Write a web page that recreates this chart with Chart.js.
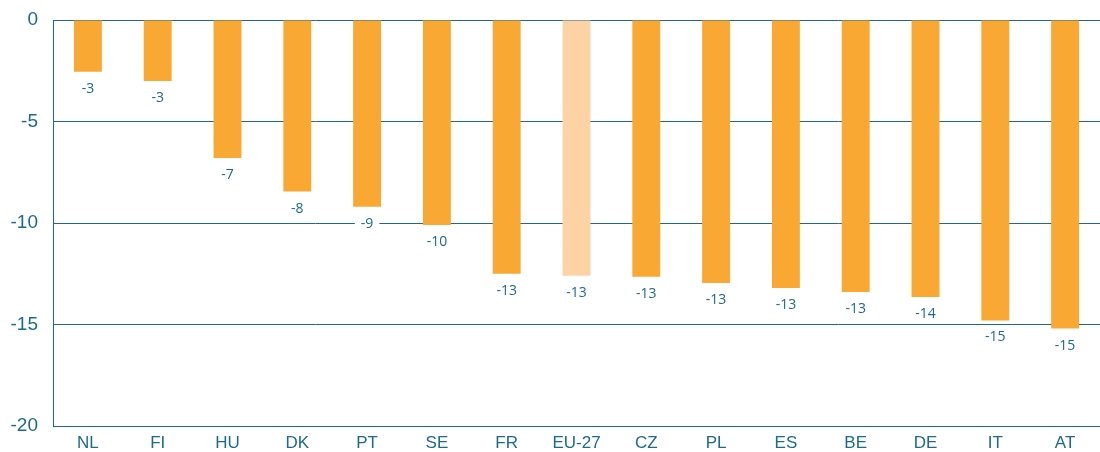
<!DOCTYPE html>
<html>
<head>
<meta charset="utf-8">
<style>
  html, body { margin: 0; padding: 0; background: #fff; }
  #wrap { width: 1100px; height: 452px; }
</style>
<script src="https://cdn.jsdelivr.net/npm/chart.js@4/dist/chart.umd.min.js"></script>
</head>
<body>
<div id="wrap"><canvas id="myChart" width="1100" height="452"></canvas></div>
<script>
const countries = ["NL", "FI", "HU", "DK", "PT", "SE", "FR", "EU-27", "CZ", "PL", "ES", "BE", "DE", "IT", "AT"];
const changes = [-2.55, -3.0, -6.8, -8.45, -9.2, -10.1, -12.5, -12.6, -12.65, -12.95, -13.2, -13.4, -13.65, -14.8, -15.2];
const yTicks = [0, -5, -10, -15, -20];

const teal = "#1b6b8a";
const barColor = "#f9a933";
const euColor = "#fdd3a6";

// value labels under each bar end, on a white box so gridlines are cut
const valueLabels = {
    id: "valueLabels",
    afterDatasetsDraw(chart) {
        let ctx = chart.ctx;
        let meta = chart.getDatasetMeta(0);
        ctx.save();
        ctx.font = "14px 'Open Sans'";
        ctx.textAlign = "center";
        ctx.textBaseline = "middle";
        meta.data.forEach(function (bar, i) {
            let v = changes[i];
            let txt = String(-Math.round(Math.abs(v)));
            let w = ctx.measureText(txt).width + 12;
            let y = bar.y + 17;
            ctx.fillStyle = "#fff";
            ctx.fillRect(bar.x - w / 2, y - 8, w, 16);
            ctx.fillStyle = teal;
            ctx.fillText(txt, bar.x, y);
        });
        ctx.restore();
    }
};

let ctx = document.getElementById("myChart").getContext("2d");
let myChart = new Chart(ctx, {
    type: "bar",
    data: {
        labels: countries,
        datasets: [{
            data: changes,
            backgroundColor: countries.map(c => c === "EU-27" ? euColor : barColor),
            borderWidth: 0,
            barPercentage: 0.4,
            categoryPercentage: 1
        }]
    },
    options: {
        responsive: false,
        animation: false,
        layout: { padding: { top: 20, right: 0, left: 0, bottom: 0 } },
        plugins: {
            legend: { display: false },
            tooltip: { enabled: false }
        },
        scales: {
            x: {
                grid: { display: false, drawTicks: false },
                border: { display: true, color: teal, width: 1 },
                ticks: {
                    color: teal,
                    font: { family: "'Liberation Sans', Arial", size: 17 },
                    padding: 7,
                    maxRotation: 0
                },
                afterFit(scale) { scale.height = 26; }
            },
            y: {
                min: -20,
                max: 0,
                afterBuildTicks(scale) {
                    scale.ticks = yTicks.map(v => ({ value: v }));
                },
                grid: { color: teal, lineWidth: 1, drawTicks: false },
                border: { display: true, color: teal, width: 1 },
                ticks: {
                    color: teal,
                    font: { family: "'Liberation Sans', Arial", size: 19 },
                    padding: 15
                },
                afterFit(scale) {
                    scale.width = 53;
                    scale.paddingTop = 0;
                    scale.paddingBottom = 0;
                }
            }
        }
    },
    plugins: [valueLabels]
});
</script>
</body>
</html>
